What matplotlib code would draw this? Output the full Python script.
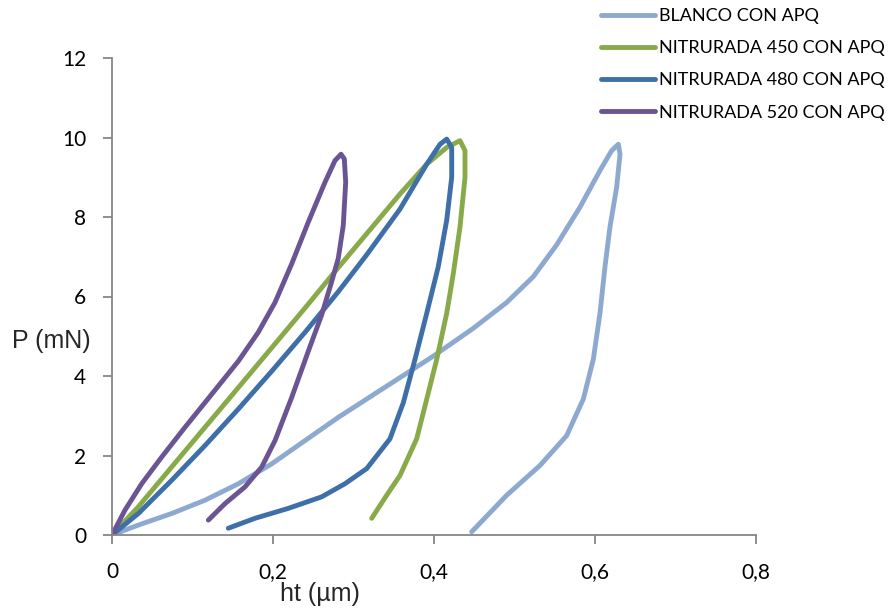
import matplotlib
matplotlib.use('Agg')
from matplotlib import pyplot as plt

# load-unload curves, ht (um) vs P (mN)
blanco_h = [0.0, 0.0327, 0.0741, 0.1155, 0.157, 0.1984, 0.2398, 0.2811, 0.3164, 0.3991, 0.4488,
            0.4903, 0.5234, 0.5524, 0.5814, 0.6062, 0.6207, 0.629, 0.6311, 0.6269, 0.6186, 0.6124,
            0.6062, 0.5979, 0.5855, 0.5648, 0.5317, 0.4903, 0.4468]
blanco_p = [0.0, 0.25, 0.54, 0.875, 1.29, 1.79, 2.375, 2.96, 3.42, 4.5, 5.2,
            5.85, 6.5, 7.3, 8.25, 9.17, 9.67, 9.83, 9.58, 8.75, 7.75, 6.75,
            5.58, 4.42, 3.42, 2.5, 1.75, 1.0, 0.08]

n450_h = [0.0, 0.0327, 0.0741, 0.1155, 0.157, 0.1984, 0.2398, 0.275, 0.3164, 0.3578, 0.391,
          0.4158, 0.4323, 0.4385, 0.4385, 0.4323, 0.424, 0.4158, 0.4034, 0.391, 0.3785,
          0.3578, 0.3412, 0.3226]
n450_p = [0.0, 0.71, 1.71, 2.71, 3.71, 4.71, 5.71, 6.58, 7.58, 8.58, 9.33,
          9.75, 9.92, 9.67, 9.0, 7.75, 6.58, 5.58, 4.42, 3.42, 2.42,
          1.5, 1.0, 0.42]

n480_h = [0.0, 0.0327, 0.0741, 0.1155, 0.157, 0.1984, 0.2398, 0.2811, 0.3164, 0.3578, 0.391,
          0.4075, 0.4158, 0.422, 0.422, 0.4158, 0.4053, 0.391, 0.3764, 0.3619, 0.3453,
          0.3164, 0.2894, 0.2605, 0.219, 0.1776, 0.1445]
n480_p = [0.0, 0.54, 1.375, 2.25, 3.17, 4.12, 5.1, 6.12, 7.05, 8.2, 9.33,
          9.83, 9.96, 9.75, 9.0, 7.92, 6.75, 5.58, 4.42, 3.33, 2.42,
          1.67, 1.29, 0.96, 0.67, 0.42, 0.17]

n520_h = [0.0, 0.0161, 0.0369, 0.0617, 0.0907, 0.1238, 0.157, 0.1817, 0.2025, 0.2232, 0.2439,
          0.2646, 0.277, 0.2845, 0.2886, 0.2903, 0.2873, 0.2811, 0.2729, 0.2605, 0.2439,
          0.2232, 0.2025, 0.186, 0.1652, 0.1404, 0.1197]
n520_p = [0.0, 0.625, 1.29, 1.96, 2.71, 3.54, 4.375, 5.1, 5.85, 6.82, 7.875,
          8.875, 9.42, 9.58, 9.46, 8.875, 7.79, 6.96, 6.375, 5.54, 4.625,
          3.46, 2.375, 1.71, 1.21, 0.79, 0.375]

labels = ['BLANCO CON APQ', 'NITRURADA 450 CON APQ', 'NITRURADA 480 CON APQ', 'NITRURADA 520 CON APQ']
colors = ['#8EA9D0', '#88AA48', '#3F6FA9', '#6B5494']

x_ticks = [0, 0.2, 0.4, 0.6, 0.8]
x_ticklabels = ['0', '0,2', '0,4', '0,6', '0,8']
y_ticks = [0, 2, 4, 6, 8, 10, 12]


def main() -> None:
    fig = plt.figure(figsize=(8.94, 6.10), dpi=100)
    ax = fig.add_axes([112 / 894, 75 / 610, 644 / 894, 477 / 610])

    series = [(blanco_h, blanco_p), (n450_h, n450_p), (n480_h, n480_p), (n520_h, n520_p)]
    for (h, p), lab, col in zip(series, labels, colors):
        ax.plot(h, p, color=col, lw=3.5, label=lab, solid_capstyle='round', solid_joinstyle='round')

    ax.set_xlim(0, 0.8)
    ax.set_ylim(0, 12)
    ax.set_xticks(x_ticks)
    ax.set_xticklabels(x_ticklabels)
    ax.set_yticks(y_ticks)
    for s in ['top', 'right']:
        ax.spines[s].set_visible(False)
    for s in ['left', 'bottom']:
        ax.spines[s].set_color('#868686')
        ax.spines[s].set_linewidth(1.3)
    ax.tick_params(colors='#868686', length=6.5, width=1.3, labelcolor='black', labelsize=15)
    ax.tick_params(axis='y', pad=12)
    ax.tick_params(axis='x', pad=13)
    for t in ax.get_xticklabels() + ax.get_yticklabels():
        t.set_fontfamily('Lato')

    # axis titles sit where the original put them, not centred on the axes
    fig.text(12 / 894, 1 - 341 / 610, 'P (mN)', fontsize=18, family='Liberation Sans',
             color='#262626', va='center', ha='left')
    fig.text(320 / 894, 1 - 594 / 610, 'ht (\u00b5m)', fontsize=18, family='Liberation Sans',
             color='#262626', va='center', ha='center')

    fig.legend(loc='upper left', bbox_to_anchor=(601 / 894, 1 - 8 / 610), frameon=False,
               prop={'family': 'Lato', 'size': 13}, handlelength=3.0, handletextpad=0.2,
               labelspacing=0.9, borderaxespad=0, borderpad=0)

    fig.savefig('out.png', dpi=100)


if __name__ == '__main__':
    main()
